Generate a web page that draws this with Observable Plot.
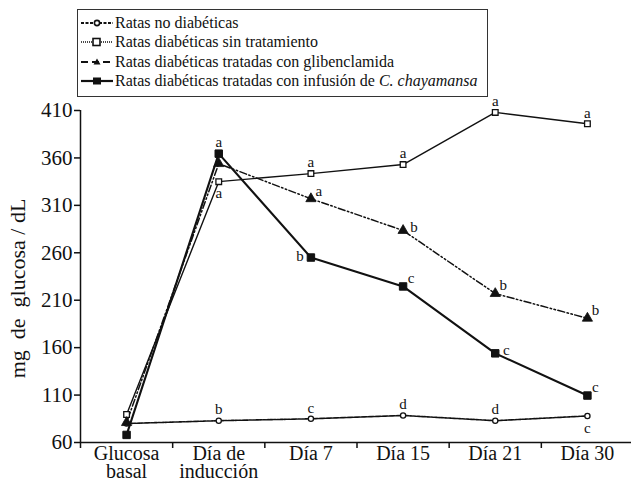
<!DOCTYPE html>
<html>
<head>
<meta charset="utf-8">
<script src="https://cdn.jsdelivr.net/npm/d3@7"></script>
<script src="https://cdn.jsdelivr.net/npm/@observablehq/plot@0.6"></script>
<style>
  body { margin: 0; background: #fff; }
  #wrap { position: relative; width: 631px; height: 482px; font-family: "Liberation Serif", "DejaVu Serif", serif; color: #111; }
  #legend { position: absolute; left: 77px; top: 9px; width: 409px; height: 86px; border: 1.5px solid #333; background: #fff; }
  .row { position: absolute; left: 2px; height: 20px; display: flex; align-items: center; font-family: "Liberation Serif", serif; font-size: 16px; white-space: nowrap; }
  .row svg { margin-right: 1px; }
  #chart { position: absolute; left: 0; top: 0; }
</style>
</head>
<body>
<div id="wrap">
  <div id="chart"></div>
  <div id="legend"></div>
</div>
<script>
// ---- data ----
const categories = ["Glucosa\nbasal", "Día de\ninducción", "Día 7", "Día 15", "Día 21", "Día 30"];
const yTicks = [60, 110, 160, 210, 260, 310, 360, 410];
const yLabel = "mg\u00A0 de\u00A0 glucosa / dL";

const seriesNames = [
  "Ratas no diabéticas",
  "Ratas diabéticas sin tratamiento",
  "Ratas diabéticas tratadas con glibenclamida",
  "Ratas diabéticas tratadas con infusión de C. chayamansa"
];

const noDiabeticas = [80, 83, 85, 88.5, 83, 88];
const sinTratamiento = [89.5, 335, 343.5, 353, 408, 396];
const glibenclamida = [81, 354, 317, 283.5, 217, 191];
const infusion = [68, 364.5, 255, 224.5, 154, 109.5];

const letrasNoDiabeticas = ["", "b", "c", "d", "d", "c"];
const letrasSinTratamiento = ["", "a", "a", "a", "a", "a"];
const letrasGlibenclamida = ["", "", "a", "b", "b", "b"];
const letrasInfusion = ["", "a", "b", "c", "c", "c"];

// label placement (style, not data)
const posNoDiabeticas = [null, "above", "above", "above", "above", "below"];
const posSinTratamiento = [null, "below", "above", "above", "above", "above"];
const posGlibenclamida = [null, null, "upright", "right", "upright", "upright"];
const posInfusion = [null, "above", "left", "upright", "right", "upright"];

// ---- build tables ----
const seriesValues = [noDiabeticas, sinTratamiento, glibenclamida, infusion];
const seriesLetters = [letrasNoDiabeticas, letrasSinTratamiento, letrasGlibenclamida, letrasInfusion];
const seriesPos = [posNoDiabeticas, posSinTratamiento, posGlibenclamida, posInfusion];

const rows = [];
seriesValues.forEach((vals, s) => {
  vals.forEach((v, i) => rows.push({serie: s, i, x: i + 0.5, y: v, letra: seriesLetters[s][i], pos: seriesPos[s][i]}));
});
const catRows = categories.map((c, i) => ({x: i + 0.5, label: c}));

const FONT = "Liberation Serif";
const styles = [
  {stroke: "#111", strokeWidth: 1.6, strokeDasharray: "2.5,1"},
  {stroke: "#111", strokeWidth: 1.4},
  {stroke: "#111", strokeWidth: 1.5, strokeDasharray: "7,2.5,1.5,2.5,1.5,2.5"},
  {stroke: "#111", strokeWidth: 2.1}
];
const dotStyles = [
  {symbol: "circle", r: 2.6, fill: "white", stroke: "#111", strokeWidth: 1.3},
  {symbol: "square", r: 3.2, fill: "white", stroke: "#111", strokeWidth: 1.3},
  {symbol: "triangle", r: 3.8, fill: "#111", stroke: "#111", strokeWidth: 0.8},
  {symbol: "square", r: 4.2, fill: "#111", stroke: "#111", strokeWidth: 1, strokeLinejoin: "round"}
];
const offsets = {
  above: {dx: 0, dy: -11},
  below: {dx: 0, dy: 12},
  left: {dx: -11, dy: -1},
  right: {dx: 11, dy: -3},
  upright: {dx: 8, dy: -8}
};

const marks = [];
// axes lines
marks.push(Plot.ruleY([60], {stroke: "#111", strokeWidth: 1.5}));
marks.push(Plot.ruleX([0], {y1: 410, y2: 60, stroke: "#111", strokeWidth: 1.5}));
marks.push(Plot.axisY({ticks: yTicks, tickSize: 6, tickPadding: 2, fontSize: 21, fontFamily: FONT, label: null, stroke: "#111", strokeWidth: 1.5}));
marks.push(Plot.text([yLabel], {frameAnchor: "left", textAnchor: "middle", rotate: -90, dx: -63, dy: 12, fontSize: 22, fontFamily: FONT, fill: "#111"}));
marks.push(Plot.axisX({ticks: [0, 1, 2, 3, 4, 5], tickSize: 6, tickFormat: () => "", stroke: "#111", strokeWidth: 1.5, label: null}));
marks.push(Plot.text(catRows, {x: "x", y: () => 60, text: "label", lineAnchor: "top", dy: 5, fontSize: 20, fontFamily: FONT, lineHeight: 0.9, fill: "#111"}));

// series lines, dots
[0, 1, 2, 3].forEach(s => {
  marks.push(Plot.line(rows.filter(d => d.serie === s), {x: "x", y: "y", ...styles[s]}));
});
[0, 1, 2, 3].forEach(s => {
  marks.push(Plot.dot(rows.filter(d => d.serie === s), {x: "x", y: "y", ...dotStyles[s]}));
});
// letters
Object.entries(offsets).forEach(([k, o]) => {
  marks.push(Plot.text(rows.filter(d => d.pos === k && d.letra), {x: "x", y: "y", text: "letra", dx: o.dx, dy: o.dy, fontSize: 15, fontFamily: FONT, fill: "#111"}));
});

const chart = Plot.plot({
  width: 631,
  height: 482,
  marginLeft: 80,
  marginRight: 0,
  marginTop: 110,
  marginBottom: 40,
  x: {type: "linear", domain: [0, 6], range: [80, 633]},
  y: {domain: [60, 410]},
  style: {fontFamily: FONT, color: "#111", background: "transparent", overflow: "visible"},
  marks
});
document.getElementById("chart").appendChild(chart);

// ---- legend ----
const legendSymbols = [
  `<line x1="1" y1="6" x2="33" y2="6" stroke="#111" stroke-width="2" stroke-dasharray="3,1.5"/><circle cx="17" cy="6" r="2.6" fill="white" stroke="#111" stroke-width="1.6"/>`,
  `<line x1="1" y1="6" x2="33" y2="6" stroke="#111" stroke-width="1.4" stroke-dasharray="1,1"/><rect x="13" y="2.5" width="7" height="7" fill="white" stroke="#111" stroke-width="1.6"/>`,
  `<line x1="1" y1="6" x2="33" y2="6" stroke="#111" stroke-width="2" stroke-dasharray="7,4"/><path d="M17,2.5 L20.5,8.5 L13.5,8.5 Z" fill="#111"/>`,
  `<line x1="1" y1="6" x2="33" y2="6" stroke="#111" stroke-width="2.2"/><rect x="13" y="2.5" width="8" height="7" fill="#111"/>`
];
const legend = document.getElementById("legend");
const rowTops = [3, 22, 42, 61];
seriesNames.forEach((name, k) => {
  const div = document.createElement("div");
  div.className = "row";
  div.style.top = rowTops[k] + "px";
  let label = name;
  if (name.endsWith("C. chayamansa")) {
    label = name.replace("C. chayamansa", "<i>C. chayamansa</i>");
  }
  div.innerHTML = `<svg width="34" height="12">${legendSymbols[k]}</svg><span>${label}</span>`;
  legend.appendChild(div);
});
</script>
</body>
</html>
